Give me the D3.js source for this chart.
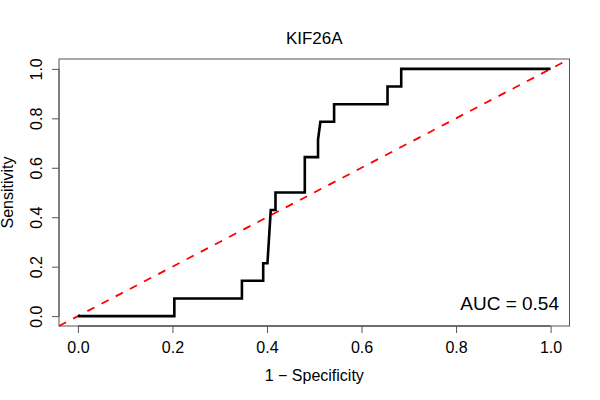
<!DOCTYPE html>
<html>
<head>
<meta charset="utf-8">
<script src="https://cdn.jsdelivr.net/npm/d3@7"></script>
<style>
    body { margin: 0; background: #fff; }
    svg text { font-family: "Liberation Sans", Arial, Helvetica, sans-serif; fill: #000; }
</style>
</head>
<body>
<div id="roc_chart"></div>
<script>
// ROC curve values
var fpr = [0, 0.204, 0.204, 0.347, 0.347, 0.392, 0.392, 0.401, 0.408, 0.418, 0.418, 0.48, 0.48,
           0.508, 0.508, 0.513, 0.542, 0.542, 0.655, 0.655, 0.684, 0.684, 1];
var tpr = [0, 0, 0.071, 0.071, 0.143, 0.143, 0.214, 0.214, 0.429, 0.429, 0.5, 0.5, 0.643,
           0.643, 0.714, 0.786, 0.786, 0.857, 0.857, 0.929, 0.929, 1, 1];
var tickValues = [0, 0.2, 0.4, 0.6, 0.8, 1];
var tickLabels = ["0.0", "0.2", "0.4", "0.6", "0.8", "1.0"];
var title = "KIF26A";
var aucText = "AUC = 0.54";

var width = 600, height = 400;
var plotLeft = 59, plotRight = 569.5, plotTop = 59, plotBottom = 326;

var svg = d3.select("#roc_chart").append("svg")
    .attr("width", width)
    .attr("height", height);

var x = d3.scaleLinear().domain([-0.04, 1.04]).range([plotLeft, plotRight]);
var y = d3.scaleLinear().domain([-0.04, 1.04]).range([plotBottom, plotTop]);

// reference diagonal, corner to corner like abline(0, 1)
svg.append("line")
    .attr("x1", x(-0.04)).attr("y1", y(-0.04))
    .attr("x2", x(1.04)).attr("y2", y(1.04))
    .style("stroke", "#ff0000")
    .style("stroke-width", 1.8)
    .style("stroke-dasharray", "8,8");

var points = fpr.map(function(d, i) { return [d, tpr[i]]; });
var line = d3.line()
    .x(function(d) { return x(d[0]); })
    .y(function(d) { return y(d[1]); });

svg.append("path")
    .datum(points)
    .attr("d", line)
    .style("fill", "none")
    .style("stroke", "#000")
    .style("stroke-width", 2.6)
    .style("stroke-linejoin", "miter");

// box
svg.append("rect")
    .attr("x", plotLeft).attr("y", plotTop)
    .attr("width", plotRight - plotLeft).attr("height", plotBottom - plotTop)
    .style("fill", "none")
    .style("stroke", "#555")
    .style("stroke-width", 1);

var xAxis = d3.axisBottom(x)
    .tickValues(tickValues)
    .tickSize(7)
    .tickFormat(function(d, i) { return tickLabels[i]; });

var gx = svg.append("g")
    .attr("transform", "translate(0," + plotBottom + ")")
    .call(xAxis);
gx.select(".domain").attr("d", "M" + x(0) + ",0H" + x(1)).style("stroke", "#333");
gx.selectAll(".tick line").style("stroke", "#555");
gx.selectAll(".tick text")
    .attr("y", 27.3)
    .attr("dy", 0)
    .style("font-size", "16px")
    .style("font-family", "'Liberation Sans', Arial, sans-serif");

var yAxis = d3.axisLeft(y)
    .tickValues(tickValues)
    .tickSize(7)
    .tickFormat(function(d, i) { return tickLabels[i]; });

var gy = svg.append("g")
    .attr("transform", "translate(" + plotLeft + ",0)")
    .call(yAxis);
gy.select(".domain").attr("d", "M0," + y(0) + "V" + y(1)).style("stroke", "#555");
gy.selectAll(".tick line").style("stroke", "#555");
gy.selectAll(".tick text")
    .attr("x", 0)
    .attr("dy", 0)
    .attr("transform", "translate(" + (41.7 - plotLeft) + ",0) rotate(-90)")
    .style("text-anchor", "middle")
    .style("font-size", "16px")
    .style("font-family", "'Liberation Sans', Arial, sans-serif");

// titles
svg.append("text")
    .attr("x", (plotLeft + plotRight) / 2)
    .attr("y", 43.5)
    .style("text-anchor", "middle")
    .style("font-size", "17px")
    .text(title);

svg.append("text")
    .attr("x", (plotLeft + plotRight) / 2)
    .attr("y", 381)
    .style("text-anchor", "middle")
    .style("font-size", "16px")
    .text("1 \u2212 Specificity");

svg.append("text")
    .attr("transform", "translate(12.5," + ((plotTop + plotBottom) / 2) + ") rotate(-90)")
    .style("text-anchor", "middle")
    .style("font-size", "16px")
    .text("Sensitivity");

svg.append("text")
    .attr("x", 559)
    .attr("y", 310)
    .style("text-anchor", "end")
    .style("font-size", "19px")
    .text(aucText);
</script>
</body>
</html>
